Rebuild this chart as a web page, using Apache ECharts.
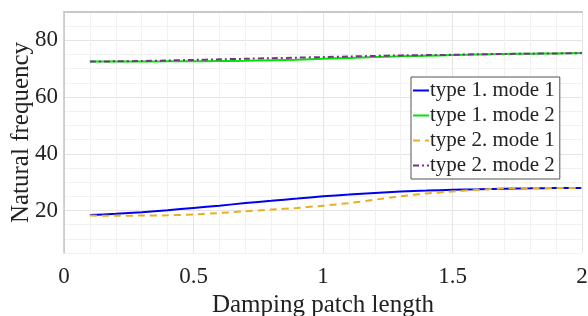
<!DOCTYPE html>
<html>
<head>
<meta charset="utf-8">
<script src="https://cdn.jsdelivr.net/npm/echarts@6/dist/echarts.min.js"></script>
<style>
  html, body { margin: 0; padding: 0; background: #fff; }
  #main { width: 588px; height: 316px; }
</style>
</head>
<body>
<div id="main"></div>
<script>
// patch length (x) and natural frequency of each curve
var lengths = [0.1, 0.2, 0.3, 0.4, 0.5, 0.6, 0.7, 0.8, 0.9, 1.0,
               1.1, 1.2, 1.3, 1.4, 1.5, 1.6, 1.7, 1.8, 1.9, 2.0];
var type1Mode1 = [18.4, 18.8, 19.4, 20.1, 20.9, 21.7, 22.6, 23.4, 24.2, 25.0,
                  25.6, 26.2, 26.7, 27.0, 27.3, 27.5, 27.7, 27.8, 27.9, 27.9];
var type1Mode2 = [72.5, 72.5, 72.5, 72.6, 72.6, 72.7, 72.8, 73.0, 73.2, 73.5,
                  73.8, 74.1, 74.4, 74.6, 74.8, 75.0, 75.2, 75.3, 75.4, 75.5];
var type2Mode1 = [18.2, 18.1, 18.2, 18.3, 18.6, 19.1, 19.7, 20.3, 20.9, 21.7,
                  22.6, 23.8, 25.0, 26.0, 26.7, 27.3, 27.8, 27.9, 27.9, 27.9];
var type2Mode2 = [72.5, 72.6, 72.7, 72.9, 73.1, 73.3, 73.5, 73.7, 73.9, 74.1,
                  74.3, 74.5, 74.7, 74.8, 74.9, 75.1, 75.2, 75.3, 75.4, 75.5];
var xTicks = [0, 0.5, 1, 1.5, 2];
var yTicks = [20, 40, 60, 80];

function pairs(ys) {
    return lengths.map(function (x, i) { return [x, ys[i]]; });
}

var font = 'Liberation Serif';
var chart = echarts.init(document.getElementById('main'));
var option = {
    animation: false,
    backgroundColor: '#fff',
    textStyle: { fontFamily: font },
    grid: { left: 64, right: 6, top: 12, bottom: 63, outerBoundsMode: 'none' },
    legend: {
        orient: 'vertical',
        left: 411,
        top: 77,
        padding: [3, 5, 3, 1],
        itemGap: 4,
        itemWidth: 16,
        itemHeight: 10,
        backgroundColor: '#fff',
        borderColor: '#555',
        borderWidth: 1,
        itemStyle: { opacity: 0, borderWidth: 0 },
        textStyle: { fontFamily: font, fontSize: 21, color: '#222', padding: [0, 0, 0, -4] },
        data: ['type 1. mode 1', 'type 1. mode 2', 'type 2. mode 1', 'type 2. mode 2']
    },
    xAxis: [
        {
            type: 'value',
            min: 0,
            max: 2,
            interval: 0.1,
            name: 'Damping patch length',
            nameLocation: 'middle',
            nameGap: 40,
            nameMoveOverlap: false,
            nameTextStyle: { fontFamily: font, fontSize: 25, color: '#222' },
            axisLine: { show: false },
            axisTick: { show: false },
            axisLabel: {
                fontFamily: font, fontSize: 23, color: '#222', margin: 12,
                formatter: function (v) {
                    var r = Math.round(v * 10) / 10;
                    return xTicks.indexOf(r) >= 0 ? String(r) : '';
                }
            },
            splitLine: {
                show: true,
                lineStyle: { color: ['#e4e4e4', '#f1f1f1', '#f1f1f1', '#f1f1f1', '#f1f1f1'], width: 1 }
            }
        },
        {
            type: 'value',
            min: 0,
            max: 2,
            position: 'top',
            axisLine: { show: true, lineStyle: { color: '#c8c8c8', width: 2 } },
            axisTick: { show: false },
            axisLabel: { show: false },
            splitLine: { show: false }
        }
    ],
    yAxis: {
        type: 'value',
        min: 5,
        max: 90,
        interval: 5,
        name: 'Natural frequency',
        nameLocation: 'middle',
        nameGap: 30,
        nameMoveOverlap: false,
        nameTextStyle: { fontFamily: font, fontSize: 25, color: '#222' },
        axisLine: { show: true, lineStyle: { color: '#c4c4c4', width: 1.5 } },
        axisTick: { show: false },
        axisLabel: {
            fontFamily: font, fontSize: 23, color: '#222', margin: 6,
            formatter: function (v) { return yTicks.indexOf(v) >= 0 ? String(v) : ''; }
        },
        splitLine: {
            show: true,
            lineStyle: { color: ['#f1f1f1', '#f1f1f1', '#f1f1f1', '#e4e4e4'], width: 1 }
        }
    },
    series: [
        {
            name: 'type 1. mode 1',
            type: 'line',
            smooth: 0.2,
            symbol: 'none',
            data: pairs(type1Mode1),
            lineStyle: { color: '#0000f0', width: 2 },
            itemStyle: { color: '#0000f0' },
            z: 3
        },
        {
            name: 'type 1. mode 2',
            type: 'line',
            smooth: 0.2,
            symbol: 'none',
            data: pairs(type1Mode2),
            lineStyle: { color: '#00e600', width: 2 },
            itemStyle: { color: '#00e600' },
            z: 2
        },
        {
            name: 'type 2. mode 1',
            type: 'line',
            smooth: 0.2,
            symbol: 'none',
            data: pairs(type2Mode1),
            lineStyle: { color: '#e8b020', width: 2, type: [7, 5] },
            itemStyle: { color: '#e8b020' },
            z: 4
        },
        {
            name: 'type 2. mode 2',
            type: 'line',
            smooth: 0.2,
            symbol: 'none',
            data: pairs(type2Mode2),
            lineStyle: { color: '#7e2f8e', width: 2, type: [6, 3, 2, 3] },
            itemStyle: { color: '#7e2f8e' },
            z: 4
        }
    ]
};
chart.setOption(option);
</script>
</body>
</html>
